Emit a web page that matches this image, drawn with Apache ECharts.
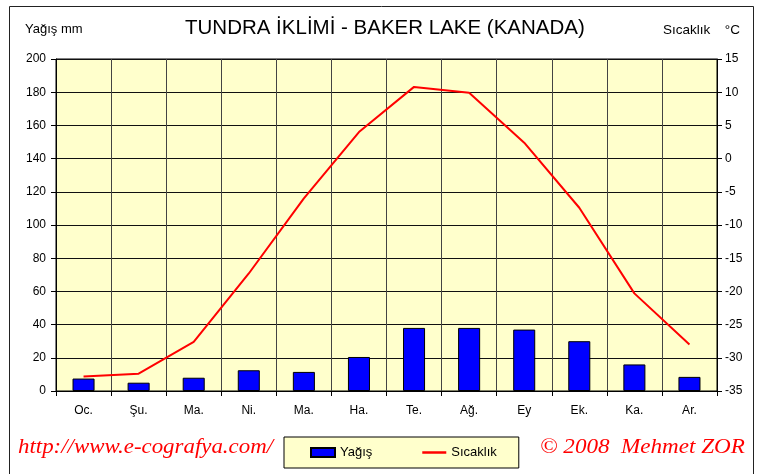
<!DOCTYPE html>
<html>
<head>
<meta charset="utf-8">
<script src="https://cdn.jsdelivr.net/npm/echarts@6/dist/echarts.min.js"></script>
<style>
  html, body { margin: 0; padding: 0; background: #fff; }
  #chart { width: 759px; height: 474px; }
</style>
</head>
<body>
<div id="chart"></div>
<script>
// aylar, yağış (mm), sıcaklık (°C)
var months = ['Oc.', 'Şu.', 'Ma.', 'Ni.', 'Ma.', 'Ha.', 'Te.', 'Ağ.', 'Ey', 'Ek.', 'Ka.', 'Ar.'];
var rain = [7.5, 5, 8, 12.5, 11.5, 20.5, 38, 38, 37, 30, 16, 8.5];
var temp = [-32.8, -32.4, -27.6, -17.3, -6, 4, 10.8, 9.9, 2.4, -7.4, -20.3, -28];

var font = 'Liberation Sans, Arial, sans-serif';
var chart = echarts.init(document.getElementById('chart'));

var option = {
    animation: false,
    textStyle: { fontFamily: font, color: '#000' },
    graphic: [
        {
            type: 'rect',
            shape: { x: 9.5, y: 6.5, width: 744, height: 480 },
            style: { fill: 'none', stroke: '#222', lineWidth: 1 }
        },
        {
            type: 'text', x: 185, y: 18,
            style: { text: 'TUNDRA İKLİMİ - BAKER LAKE (KANADA)', font: '20.5px ' + font, fill: '#000' }
        },
        {
            type: 'text', x: 25, y: 23,
            style: { text: 'Yağış mm', font: '13px ' + font, fill: '#000' }
        },
        {
            type: 'text', x: 663, y: 23,
            style: { text: 'Sıcaklık', font: '13.5px ' + font, fill: '#000' }
        },
        {
            type: 'text', x: 740, y: 23,
            style: { text: '°C', font: '13.5px ' + font, fill: '#000', align: 'right' }
        },
        {
            type: 'text', x: 18, y: 436, scaleX: 1.04,
            style: { text: 'http://www.e-cografya.com/', font: 'italic 22px Liberation Serif, serif', fill: '#ff0000' }
        },
        {
            type: 'text', x: 540, y: 436, scaleX: 1.05,
            style: { text: '© 2008  Mehmet ZOR', font: 'italic 22px Liberation Serif, serif', fill: '#ff0000' }
        }
    ],
    legend: {
        left: 284, top: 437,
        padding: [9, 22, 9, 26],
        itemWidth: 24, itemHeight: 9, itemGap: 50,
        backgroundColor: '#ffffcc',
        borderColor: '#000', borderWidth: 1,
        textStyle: { fontSize: 13, color: '#000', fontFamily: font },
        data: [
            { name: 'Yağış', icon: 'rect' },
            { name: 'Sıcaklık', icon: 'path://M0,0 L24,0 L24,2.5 L0,2.5 Z', itemStyle: { color: '#ff0000', borderWidth: 0 } }
        ]
    },
    grid: {
        left: 56, right: 42, top: 59, bottom: 83,
        show: true, backgroundColor: '#ffffcc', borderColor: '#000', borderWidth: 1
    },
    xAxis: {
        type: 'category',
        data: months,
        boundaryGap: true,
        axisLine: { lineStyle: { color: '#000' } },
        axisTick: { show: true, interval: 0, length: 5, lineStyle: { color: '#000' } },
        splitLine: { show: true, interval: 0, lineStyle: { color: '#444', width: 1 } },
        axisLabel: { interval: 0, fontSize: 12, color: '#000', margin: 14 }
    },
    yAxis: [
        {
            type: 'value', min: 0, max: 200, interval: 20,
            axisLine: { show: true, lineStyle: { color: '#000' } },
            axisTick: { show: true, length: 5, lineStyle: { color: '#000' } },
            splitLine: { show: true, lineStyle: { color: '#111', width: 1 } },
            axisLabel: { fontSize: 12, color: '#000', margin: 10 }
        },
        {
            type: 'value', min: -35, max: 15, interval: 5,
            axisLine: { show: true, lineStyle: { color: '#000' } },
            axisTick: { show: true, length: 5, lineStyle: { color: '#000' } },
            splitLine: { show: false },
            axisLabel: { fontSize: 12, color: '#000', margin: 8 }
        }
    ],
    series: [
        {
            name: 'Yağış',
            type: 'bar',
            data: rain,
            barWidth: '40%',
            itemStyle: { color: '#0000ff', borderColor: '#000', borderWidth: 1 }
        },
        {
            name: 'Sıcaklık',
            type: 'line',
            yAxisIndex: 1,
            data: temp,
            symbol: 'none',
            lineStyle: { color: '#ff0000', width: 2 },
            itemStyle: { color: '#ff0000' }
        }
    ]
};

chart.setOption(option);
</script>
</body>
</html>
